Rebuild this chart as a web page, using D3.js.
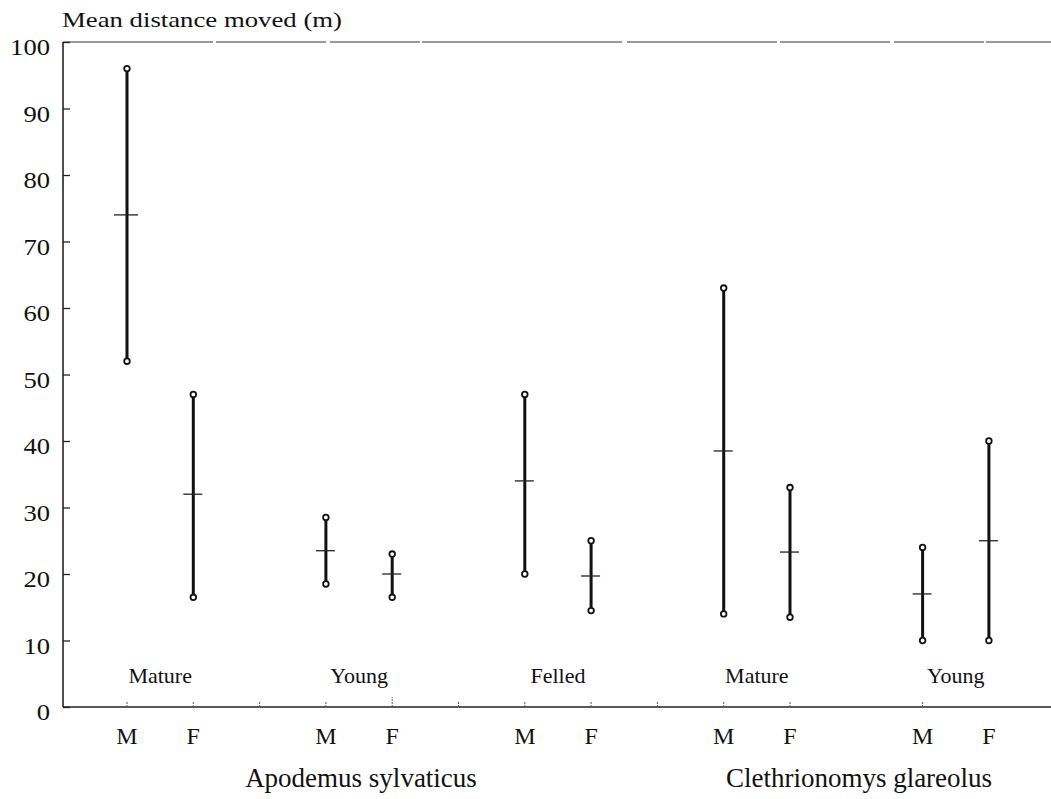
<!DOCTYPE html>
<html><head><meta charset="utf-8">
<script src="https://cdn.jsdelivr.net/npm/d3@7"></script>
<style>body{margin:0;background:#fff}svg{display:block}text{font-family:"Liberation Serif","Times New Roman",serif;fill:#111}</style>
</head><body>
<script>
const groups = ["Mature","Young","Felled","Mature","Young"];
const sexes = ["M","F"];
const species = ["Apodemus sylvaticus","Clethrionomys glareolus"];
// one entry per bar, order: group0 M, group0 F, group1 M ...
const maxVals  = [96, 47, 28.5, 23, 47, 25, 63, 33, 24, 40];
const meanVals = [74, 32, 23.5, 20, 34, 19.7, 38.5, 23.3, 17, 25];
const minVals  = [52, 16.5, 18.5, 16.5, 20, 14.5, 14, 13.5, 10, 10];
const yTicks = [0,10,20,30,40,50,60,70,80,90,100];

const W=1051,H=799;
const svg=d3.select("body").append("svg").attr("width",W).attr("height",H);
const x0=63;
const y=d3.scaleLinear().domain([0,100]).range([707,42]);
const x=d3.scaleLinear().domain([0,14]).range([127,127+14*66.3]);
const barSlot=i=>Math.floor(i/2)*3+(i%2);

// axes
svg.append("line").attr("x1",x0).attr("x2",W).attr("y1",y(0)).attr("y2",y(0)).attr("stroke","#222").attr("stroke-width",1.6);
svg.append("line").attr("x1",x0).attr("x2",W).attr("y1",y(100)).attr("y2",y(100)).attr("stroke","#333").attr("stroke-width",1.2).attr("stroke-dasharray","150,3,110,4,90,2,200,5");
svg.append("line").attr("x1",x0).attr("x2",x0).attr("y1",y(0)).attr("y2",y(100)).attr("stroke","#222").attr("stroke-width",1.6);
const yAxis=d3.axisLeft(y).tickValues(yTicks).tickSize(-7).tickPadding(13);
const ga=svg.append("g").attr("transform",`translate(${x0},0)`).call(yAxis);
ga.select(".domain").remove();
ga.selectAll("text").attr("font-size",23).attr("font-family","Liberation Serif").attr("fill","#111")
  .attr("dy","0.55em").attr("textLength",d=>String(d).length*13.3).attr("lengthAdjust","spacingAndGlyphs");
ga.selectAll("line").attr("stroke","#222").attr("stroke-width",1.3);

svg.append("text").attr("x",62).attr("y",27).attr("font-size",21)
  .attr("textLength",280).attr("lengthAdjust","spacingAndGlyphs").text("Mean distance moved (m)");

// x ticks
const xt=d3.range(15).filter(k=>k!==11&&k!==13);
svg.selectAll(".xt").data(xt).join("line").attr("x1",d=>x(d)).attr("x2",d=>x(d))
  .attr("y1",y(0)).attr("y2",d=>d===4?y(0)-10:y(0)-6).attr("stroke","#555").attr("stroke-width",1).attr("stroke-dasharray","2,1");

// bars
const idx=d3.range(maxVals.length);
const g=svg.append("g");
g.selectAll(".bar").data(idx).join("line").attr("x1",i=>x(barSlot(i))).attr("x2",i=>x(barSlot(i)))
  .attr("y1",i=>y(maxVals[i])+3).attr("y2",i=>y(minVals[i])-3).attr("stroke","#111").attr("stroke-width",3);
g.selectAll(".mean").data(idx).join("line").attr("x1",i=>x(barSlot(i))-(i===0?13:10)).attr("x2",i=>x(barSlot(i))+(i===0?11:9))
  .attr("y1",i=>y(meanVals[i])).attr("y2",i=>y(meanVals[i])).attr("stroke","#222").attr("stroke-width",1.3);
g.selectAll(".cmax").data(idx).join("circle").attr("cx",i=>x(barSlot(i))).attr("cy",i=>y(maxVals[i]))
  .attr("r",2.8).attr("fill","#fff").attr("stroke","#111").attr("stroke-width",1.8);
g.selectAll(".cmin").data(idx).join("circle").attr("cx",i=>x(barSlot(i))).attr("cy",i=>y(minVals[i]))
  .attr("r",2.8).attr("fill","#fff").attr("stroke","#111").attr("stroke-width",1.8);

// habitat labels
svg.selectAll(".grp").data(groups).join("text").attr("x",(d,i)=>(x(i*3)+x(i*3+1))/2).attr("y",683)
  .attr("text-anchor","middle").attr("font-size",22).text(d=>d);
// sex labels
svg.selectAll(".sex").data(idx).join("text").attr("x",i=>x(barSlot(i))).attr("y",744)
  .attr("text-anchor","middle").attr("font-size",24).text(i=>sexes[i%2]);
// species labels
svg.selectAll(".sp").data(species).join("text").attr("x",(d,i)=>i===0?361:859).attr("y",787)
  .attr("text-anchor","middle").attr("font-size",27).text(d=>d);
</script>
</body></html>
